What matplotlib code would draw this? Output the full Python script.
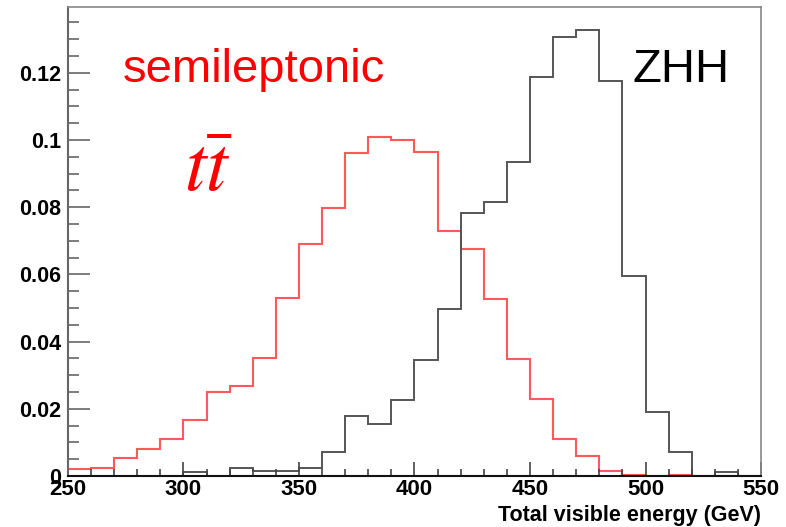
import numpy as np
import matplotlib.pyplot as plt
from matplotlib.ticker import MultipleLocator

# bin edges, 10 GeV bins from 250 to 550
edges = np.arange(250, 551, 10)

# semileptonic ttbar (red)
ttbar = [0.0020, 0.0025, 0.0055, 0.0081, 0.0109, 0.0166, 0.0249, 0.0269, 0.0350, 0.0530,
         0.0690, 0.0797, 0.0962, 0.1010, 0.1000, 0.0963, 0.0729, 0.0675, 0.0528, 0.0348,
         0.0228, 0.0110, 0.0059, 0.0016, 0.0003, 0.0000, 0.0003, 0.0000, 0.0000, 0.0000]

# ZHH (black)
zhh = [0.0, 0.0, 0.0, 0.0, 0.0, 0.0012, 0.0, 0.0023, 0.0015, 0.0015,
       0.0023, 0.0071, 0.0178, 0.0154, 0.0225, 0.0345, 0.0498, 0.0782, 0.0816, 0.0935,
       0.1187, 0.1306, 0.1329, 0.1176, 0.0595, 0.0189, 0.0071, 0.0, 0.0012, 0.0]

plt.rcParams['font.family'] = ['Liberation Sans', 'DejaVu Sans']
plt.rcParams['mathtext.fontset'] = 'stix'

fig = plt.figure(figsize=(7.86, 5.27), dpi=100)
ax = fig.add_axes([0.0865, 0.0968, 0.8817, 0.8899])

ax.stairs(ttbar, edges, color='#ff5a5a', lw=1.5, baseline=None)
ax.stairs(zhh, edges, color='#555555', lw=1.4, baseline=None)

ax.set_xlim(250, 550)
ax.set_ylim(0, 0.1396)

ax.xaxis.set_major_locator(MultipleLocator(50))
ax.xaxis.set_minor_locator(MultipleLocator(10))
ax.yaxis.set_minor_locator(MultipleLocator(0.005))
ax.set_yticks([0, 0.02, 0.04, 0.06, 0.08, 0.1, 0.12])
ax.set_yticklabels(['0', '0.02', '0.04', '0.06', '0.08', '0.1', '0.12'])

ax.tick_params(axis='y', which='major', direction='in', length=16, width=1.2, color='#666666',
               labelsize=15.5, pad=5)
ax.tick_params(axis='y', which='minor', direction='in', length=8, width=1.2, color='#666666')
ax.tick_params(axis='x', which='major', direction='in', length=10, width=1.2, color='#444444',
               labelsize=16, pad=2)
ax.tick_params(axis='x', which='minor', direction='in', length=5, width=1.2, color='#444444')
for lab in ax.get_xticklabels() + ax.get_yticklabels():
    lab.set_fontweight('bold')

for s in ['top', 'right']:
    ax.spines[s].set_color('#888888')
    ax.spines[s].set_linewidth(1.2)
ax.spines['left'].set_color('#666666')
ax.spines['left'].set_linewidth(1.5)
ax.spines['bottom'].set_color('#111111')
ax.spines['bottom'].set_linewidth(1.5)

ax.set_xlabel('Total visible energy (GeV)', fontsize=15.5, fontweight='bold', labelpad=0)
ax.xaxis.set_label_coords(1.0, -0.062)
ax.xaxis.label.set_horizontalalignment('right')

ax.text(0.079, 0.84, 'semileptonic', transform=ax.transAxes, color='red', fontsize=34)
ax.text(0.168, 0.608, r'$t\bar{t}$', transform=ax.transAxes, color='red', fontsize=56)
ax.text(0.815, 0.84, 'ZHH', transform=ax.transAxes, color='black', fontsize=34)

fig.savefig('out.png', dpi=100)
